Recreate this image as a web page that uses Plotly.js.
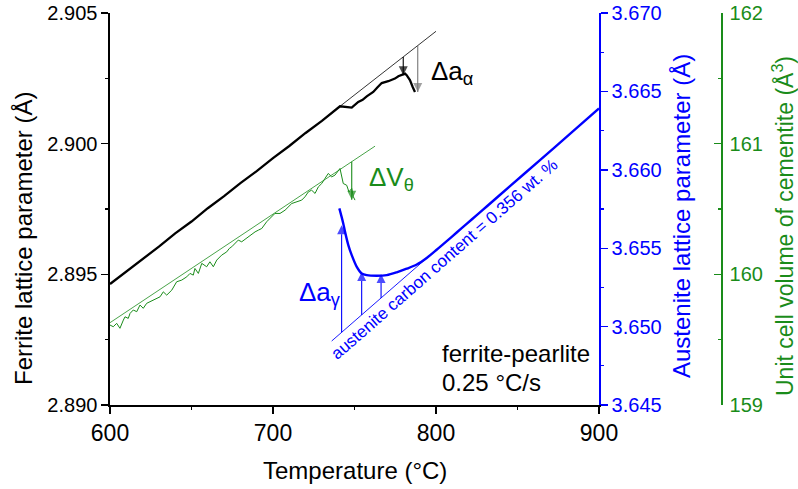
<!DOCTYPE html>
<html>
<head>
<meta charset="utf-8">
<script src="https://cdn.plot.ly/plotly-3.0.1.min.js"></script>
<style>html,body{margin:0;padding:0;background:#fff;}#chart{width:798px;height:489px;}</style>
</head>
<body>
<div id="chart"></div>
<script>
// ---- data ----
const ferriteT = [600,610,620,630,640,650,660,670,680,690,700,710,720,730,741.1,748.3,752.3,755.0,757.5,761.5,764.0,766.7,770.7,772.8,774.8,776.9,779.0,781.0,782.0,784.0,785.7,787.1];
const ferriteA = [2.89463,2.89510,2.89560,2.89606,2.89657,2.89702,2.89753,2.89799,2.89849,2.89895,2.89945,2.89991,2.90041,2.90087,2.90143,2.90138,2.90160,2.90168,2.90181,2.90198,2.90215,2.90232,2.90239,2.90243,2.90249,2.90258,2.90262,2.90268,2.90262,2.90243,2.90217,2.90198];

const cementiteT = [600.0,602.0,604.1,606.1,608.2,609.2,611.2,612.3,614.3,616.4,618.4,620.4,622.5,624.5,627.6,630.7,632.7,634.8,637.9,640.9,644.0,647.1,649.1,651.1,652.1,654.2,656.3,659.3,661.3,663.4,665.5,668.5,671.6,673.2,674.7,678.7,680.8,684.8,689.0,691.0,693.1,696.1,698.2,701.2,704.3,707.4,711.5,714.5,717.6,719.6,721.7,723.7,725.8,727.8,729.9,731.9,733.9,736.0,738.0,741.1,742.1,743.1,745.2,746.6,748.3,749.3,750.3];
const cementiteV = [159.612,159.599,159.625,159.587,159.650,159.675,159.663,159.701,159.727,159.714,159.765,159.740,159.778,159.790,159.803,159.828,159.866,159.841,159.879,159.943,159.956,159.981,160.007,159.994,160.045,160.007,160.084,160.058,160.096,160.058,160.109,160.147,160.172,160.198,160.211,160.262,160.249,160.287,160.325,160.338,160.351,160.402,160.428,160.466,160.466,160.491,160.542,160.555,160.568,160.593,160.631,160.644,160.619,160.669,160.695,160.734,160.772,160.746,160.759,160.810,160.746,160.695,160.682,160.631,160.657,160.593,160.568];

const austeniteT = [740.7,742.1,743.1,744.2,746.2,748.3,751.4,754.4,757.5,763.6,769.8,775.9,782.0,788.2,794.3,800.4,806.6,812.7,818.8,825.0,831.1,845.4,863.8,882.2,900];
const austeniteA = [3.65754,3.65700,3.65658,3.65604,3.65520,3.65456,3.65381,3.65339,3.65328,3.65324,3.65328,3.65346,3.65369,3.65396,3.65438,3.65490,3.65545,3.65600,3.65655,3.65711,3.65766,3.65896,3.66062,3.66229,3.66391];

// reference (extrapolated) lines
const ferriteTanT = [741.1, 800.0];
const ferriteTanA = [2.90143, 2.90430];
const cementiteTanT = [600.0, 762.6];
const cementiteTanV = [159.63, 160.981];
const austeniteTanT = [736.0, 800.0];
const austeniteTanA = [3.64908, 3.65488];

// arrows: temperature, tip value (tails sit on the reference lines)
const ferriteArrowT = [779.9, 788.8];
const ferriteArrowTip = [2.90262, 2.90198];
const cementiteArrowT = [748.3];
const cementiteArrowTip = [160.57];
const austeniteArrowT = [742.1, 754.4, 766.3];
const austeniteArrowTip = [3.65647, 3.65349, 3.65335];

// axis ranges
const xRange = [600, 900];
const ferriteRange = [2.890, 2.905];
const austeniteRange = [3.645, 3.670];
const cementiteRange = [159, 162];

// ---- styling ----
const BLUE = '#0000FF';
const GREEN = '#1a8c1a';
const FONT = 'Arial, "Liberation Sans", sans-serif';

function lerp(xs, ys, x) {
  return ys[0] + (ys[1] - ys[0]) * (x - xs[0]) / (xs[1] - xs[0]);
}
const L = 110, R = 76, T = 13, B = 84, W = 798, H = 489;
const PW = W - L - R, PH = H - T - B;
const px = p => (p - L) / PW;
const py = p => (H - B - p) / PH;

const traces = [
  {x: ferriteT, y: ferriteA, xaxis: 'x', yaxis: 'y', mode: 'lines', line: {color: '#000', width: 2.3}, hoverinfo: 'skip'},
  {x: ferriteTanT, y: ferriteTanA, xaxis: 'x', yaxis: 'y', mode: 'lines', line: {color: '#000', width: 0.8}, hoverinfo: 'skip'},
  {x: cementiteT, y: cementiteV, xaxis: 'x', yaxis: 'y3', mode: 'lines', line: {color: GREEN, width: 1}, hoverinfo: 'skip'},
  {x: cementiteTanT, y: cementiteTanV, xaxis: 'x', yaxis: 'y3', mode: 'lines', line: {color: GREEN, width: 0.8}, hoverinfo: 'skip'},
  {x: austeniteTanT, y: austeniteTanA, xaxis: 'x', yaxis: 'y2', mode: 'lines', line: {color: BLUE, width: 0.9}, hoverinfo: 'skip'},
  {x: austeniteT, y: austeniteA, xaxis: 'x', yaxis: 'y2', mode: 'lines', line: {color: BLUE, width: 2.4, shape: 'spline', smoothing: 0.8}, hoverinfo: 'skip'}
];

function arrow(xT, fromV, toV, yaxis, color, down) {
  traces.push({x: [xT, xT], y: [fromV, toV], xaxis: 'x', yaxis: yaxis, mode: 'lines+markers',
    line: {color: color, width: 1.1},
    marker: {symbol: ['circle', down ? 'arrow-down' : 'arrow-up'], size: [0, 9], color: color, line: {width: 0}},
    hoverinfo: 'skip'});
}
ferriteArrowT.forEach((t, i) => arrow(t, lerp(ferriteTanT, ferriteTanA, t), ferriteArrowTip[i], 'y', i === 0 ? '#000' : '#777', true));
cementiteArrowT.forEach((t, i) => arrow(t, lerp(cementiteTanT, cementiteTanV, t), cementiteArrowTip[i], 'y3', GREEN, true));
austeniteArrowT.forEach((t, i) => arrow(t, lerp(austeniteTanT, austeniteTanA, t), austeniteArrowTip[i], 'y2', BLUE, false));

const annotations = [];
function label(text, xp, yp, color, size, opts) {
  annotations.push(Object.assign({text: text, x: px(xp), y: py(yp), xref: 'paper', yref: 'paper',
    showarrow: false, font: {family: FONT, size: size, color: color}, xanchor: 'left', yanchor: 'middle'}, opts || {}));
}
label('Δa<sub>α</sub>', 429, 73, '#000', 26);
label('ΔV<sub>θ</sub>', 367, 178, GREEN, 26);
label('Δa<sub>γ</sub>', 297, 293, BLUE, 26);
label('austenite carbon content = 0.356 wt. %', 444, 259, BLUE, 17, {xanchor: 'center', textangle: -41.2});
label('ferrite-pearlite', 440, 353, '#000', 24);
label('0.25 °C/s', 440, 382, '#000', 24);
// axis titles
label('Ferrite lattice parameter (Å)', 24, 239, '#000', 24, {xanchor: 'center', textangle: -90});
label('Austenite lattice parameter (Å)', 682, 216, BLUE, 24, {xanchor: 'center', textangle: -90});
label('Unit cell volume of cementite (Å<sup>3</sup>)', 783, 226, GREEN, 23, {xanchor: 'center', textangle: -90, borderpad: 0});
label('Temperature (°C)', 354.5, 470, '#000', 24, {xanchor: 'center'});

const xDom = [0, (599 - L) / PW];
const layout = {
  width: W, height: H,
  margin: {l: L, r: R, t: T, b: B, pad: 0},
  paper_bgcolor: '#fff', plot_bgcolor: '#fff',
  showlegend: false,
  font: {family: FONT, color: '#000'},
  xaxis: {domain: xDom, range: xRange, dtick: 100, tick0: 600, showgrid: false, zeroline: false,
    showline: true, linecolor: '#000', linewidth: 1.6, ticks: 'outside', ticklen: 7, tickwidth: 1.4, tickcolor: '#000',
    tickfont: {size: 23, family: FONT, color: '#000'},
    minor: {dtick: 50, tick0: 600, ticks: 'outside', ticklen: 3.5, tickwidth: 1.2, tickcolor: '#000', showgrid: false},
    anchor: 'y'},
  xaxis2: {domain: xDom, range: xRange, overlaying: 'x', side: 'top', anchor: 'y', dtick: 100, tick0: 600,
    showgrid: false, zeroline: false, showline: true, linecolor: '#000', linewidth: 1.6,
    ticks: 'inside', ticklen: 7, tickwidth: 1.4, tickcolor: '#000', showticklabels: false,
    minor: {dtick: 50, tick0: 600, ticks: 'inside', ticklen: 3.5, tickwidth: 1.2, tickcolor: '#000', showgrid: false}},
  yaxis: {range: ferriteRange, dtick: 0.005, tick0: 2.890, tickformat: '.3f', showgrid: false, zeroline: false,
    showline: true, linecolor: '#000', linewidth: 1.6, ticks: 'outside', ticklen: 7, tickwidth: 1.4, tickcolor: '#000',
    tickfont: {size: 20, family: FONT, color: '#000'},
    minor: {dtick: 0.0025, tick0: 2.890, ticks: 'outside', ticklen: 3.5, tickwidth: 1.2, tickcolor: '#000', showgrid: false},
    anchor: 'x'},
  yaxis2: {range: austeniteRange, dtick: 0.005, tick0: 3.645, tickformat: '.3f', overlaying: 'y', side: 'right', anchor: 'x',
    showgrid: false, zeroline: false, showline: true, linecolor: BLUE, linewidth: 1.6,
    ticks: 'outside', ticklen: 7, tickwidth: 1.4, tickcolor: BLUE,
    tickfont: {size: 20, family: FONT, color: BLUE},
    minor: {dtick: 0.0025, tick0: 3.645, ticks: 'outside', ticklen: 3.5, tickwidth: 1.2, tickcolor: BLUE, showgrid: false}},
  yaxis3: {range: cementiteRange, dtick: 1, tick0: 159, overlaying: 'y', side: 'right', anchor: 'free', position: (721 - L) / PW,
    showgrid: false, zeroline: false, showline: true, linecolor: GREEN, linewidth: 1.6,
    ticks: 'inside', ticklen: 7, tickwidth: 1.4, tickcolor: GREEN, ticklabelstandoff: 3,
    tickfont: {size: 20, family: FONT, color: GREEN},
    minor: {dtick: 0.5, tick0: 159, ticks: 'inside', ticklen: 3.5, tickwidth: 1.2, tickcolor: GREEN, showgrid: false}},
  annotations: annotations
};

Plotly.newPlot('chart', traces, layout, {staticPlot: true, displayModeBar: false});
</script>
</body>
</html>
